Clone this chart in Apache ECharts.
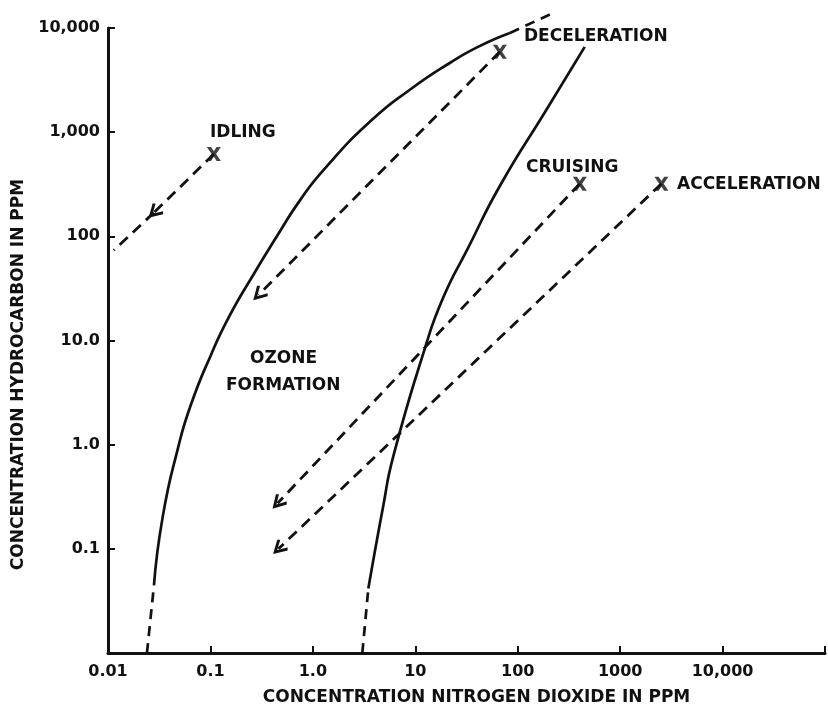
<!DOCTYPE html>
<html>
<head>
<meta charset="utf-8">
<script src="https://cdn.jsdelivr.net/npm/echarts@6/dist/echarts.min.js"></script>
<style>
  html, body { margin: 0; background: #fff; }
  #chart { width: 828px; height: 711px; }
</style>
</head>
<body>
<div id="chart"></div>
<script>
// tick labels, one per decade (index = log10 value - min exponent)
var xTickLabels = ["0.01", "0.1", "1.0", "10", "100", "1000", "10,000", ""];
var yTickLabels = ["", "0.1", "1.0", "10.0", "100", "1,000", "10,000"];

// boundary curves, [NO2 ppm, HC ppm]
var leftCurve = [[0.0281, 0.0445], [0.0343, 0.206], [0.0481, 0.916], [0.0643, 2.40],
  [0.1007, 7.19], [0.154, 17.3], [0.258, 41.6], [0.433, 95.7], [0.757, 225], [1.30, 444],
  [3.64, 1270], [8.92, 2570], [21.9, 4640], [42.9, 6740], [84.0, 8960]];
var leftCurveLow = [[0.024, 0.01], [0.0281, 0.0445]];
var leftCurveHigh = [[84.0, 8960], [220, 13900]];

var rightCurve = [[3.48, 0.0416], [4.86, 0.257], [6.09, 0.769], [12.5, 8.58], [18.7, 25.7],
  [32.7, 76.9], [67.1, 306], [192, 1660], [451, 6590]];
var rightCurveLow = [[3.04, 0.01], [3.48, 0.0416]];

// driving modes: X mark and arrow tip
var modeNames = ["IDLING", "DECELERATION", "CRUISING", "ACCELERATION"];
var modeStart = [[0.108, 617], [67, 5910], [404, 320], [2530, 320]];
var modeArrow = [[0.0281, 169], [0.295, 27.4], [0.453, 0.274], [0.462, 0.1]];
var idlingTail = [[0.0281, 169], [0.0114, 73.6]];

var ink = "#111";
var font = "DejaVu Sans";
var chevron = "path://M0,0 L6.5,10 L4.6,11.6 L0,4.4 L-4.6,11.6 L-6.5,10 Z";
var xMark = "path://M0,0 L3,0 L5,3 L7,0 L10,0 L6.6,5 L10,10 L7,10 L5,7 L3,10 L0,10 L3.4,5 Z";

var chart = echarts.init(document.getElementById("chart"));

function curve(data, dashed) {
  return {
    type: "line",
    data: data,
    smooth: dashed ? false : 0.55,
    symbol: "none",
    clip: false,
    silent: true,
    lineStyle: { color: ink, width: 2.7, type: dashed ? [10, 7] : "solid" }
  };
}

var arrowData = modeStart.map(function (s, i) {
  return { name: modeNames[i], coords: [s, modeArrow[i]] };
});

var labelFont = "bold 17px " + font;

var option = {
  backgroundColor: "#fff",
  animation: false,
  grid: { left: 108, right: 1, top: 28, bottom: 53 },
  xAxis: {
    type: "log",
    logBase: 10,
    min: 0.01,
    max: 100000,
    name: "CONCENTRATION NITROGEN DIOXIDE IN PPM",
    nameLocation: "middle",
    nameGap: 36,
    nameTextStyle: { color: ink, fontFamily: font, fontSize: 17, fontWeight: "bold", padding: [0, 0, 0, 20] },
    axisLine: { lineStyle: { color: ink, width: 3 } },
    axisTick: { inside: true, length: 7, lineStyle: { color: ink, width: 2 } },
    splitLine: { show: false },
    axisLabel: {
      color: ink, fontFamily: font, fontSize: 16, fontWeight: "bold", margin: 11,
      formatter: function (v) { return xTickLabels[Math.round(Math.log10(v)) + 2]; }
    }
  },
  yAxis: {
    type: "log",
    logBase: 10,
    min: 0.01,
    max: 10000,
    name: "CONCENTRATION HYDROCARBON IN PPM",
    nameLocation: "middle",
    nameGap: 70,
    nameTextStyle: { color: ink, fontFamily: font, fontSize: 17, fontWeight: "bold", padding: [0, 68, 0, 0] },
    axisLine: { lineStyle: { color: ink, width: 3 } },
    axisTick: { inside: true, length: 7, lineStyle: { color: ink, width: 2 } },
    splitLine: { show: false },
    axisLabel: {
      color: ink, fontFamily: font, fontSize: 16, fontWeight: "bold", margin: 8,
      formatter: function (v) { return yTickLabels[Math.round(Math.log10(v)) + 2]; }
    }
  },
  graphic: [
    { type: "text", left: 210, top: 124, style: { text: "IDLING", fill: ink, font: labelFont } },
    { type: "text", left: 524, top: 28, style: { text: "DECELERATION", fill: ink, font: labelFont } },
    { type: "text", left: 526, top: 159, style: { text: "CRUISING", fill: ink, font: labelFont } },
    { type: "text", left: 677, top: 176, style: { text: "ACCELERATION", fill: ink, font: labelFont } },
    { type: "text", left: 250, top: 350, style: { text: "OZONE", fill: ink, font: labelFont } },
    { type: "text", left: 226, top: 377, style: { text: "FORMATION", fill: ink, font: labelFont } }
  ],
  series: [
    curve(leftCurve, false),
    curve(leftCurveLow, true),
    curve(leftCurveHigh, true),
    curve(rightCurve, false),
    curve(rightCurveLow, true),
    {
      type: "lines",
      coordinateSystem: "cartesian2d",
      data: arrowData,
      symbol: ["none", chevron],
      symbolSize: 15,
      silent: true,
      lineStyle: { color: ink, width: 2.8, type: [11, 7], opacity: 1 }
    },
    {
      type: "lines",
      coordinateSystem: "cartesian2d",
      data: [{ coords: idlingTail }],
      symbol: "none",
      silent: true,
      lineStyle: { color: ink, width: 2.8, type: [11, 7], opacity: 1 }
    },
    {
      type: "scatter",
      data: modeStart,
      symbol: xMark,
      symbolSize: 14,
      silent: true,
      itemStyle: { color: ink }
    }
  ]
};

chart.setOption(option);
</script>
</body>
</html>
